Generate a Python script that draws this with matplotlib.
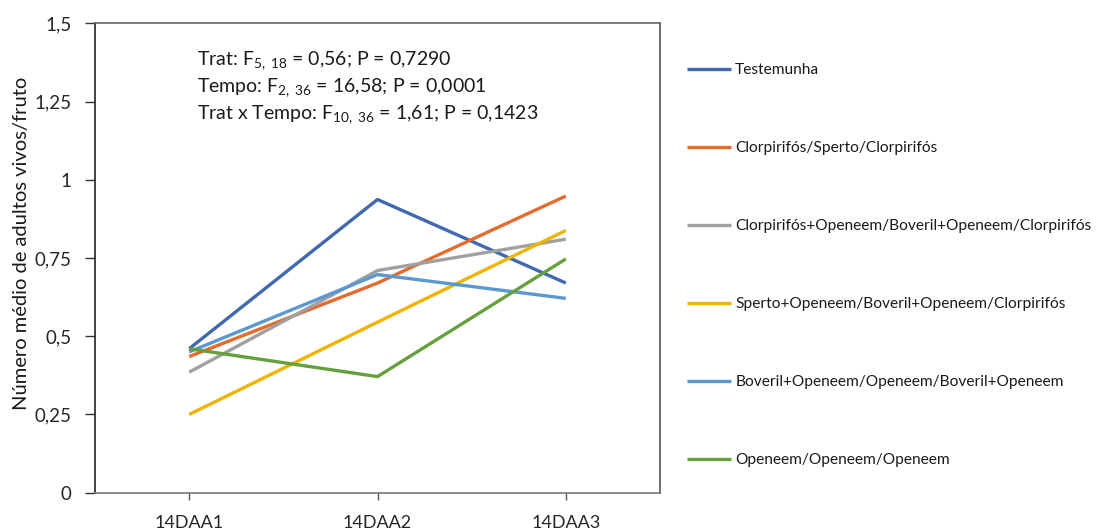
import matplotlib
matplotlib.use("Agg")
import matplotlib.pyplot as plt
from matplotlib.ticker import FixedLocator

plt.rcParams["font.family"] = ["Lato", "DejaVu Sans"]
plt.rcParams["mathtext.fontset"] = "custom"
plt.rcParams["mathtext.rm"] = "Lato"
plt.rcParams["mathtext.it"] = "Lato:italic"

# data
times = ["14DAA1", "14DAA2", "14DAA3"]
series_names = [
    "Testemunha",
    "Clorpirifós/Sperto/Clorpirifós",
    "Clorpirifós+Openeem/Boveril+Openeem/Clorpirifós",
    "Sperto+Openeem/Boveril+Openeem/Clorpirifós",
    "Boveril+Openeem/Openeem/Boveril+Openeem",
    "Openeem/Openeem/Openeem",
]
testemunha = [0.46, 0.937, 0.67]
clorpirifos = [0.435, 0.67, 0.948]
clorp_openeem = [0.385, 0.71, 0.81]
sperto_openeem = [0.25, 0.545, 0.838]
boveril_openeem = [0.45, 0.697, 0.621]
openeem = [0.46, 0.371, 0.747]
y_ticks = [0, 0.25, 0.5, 0.75, 1, 1.25, 1.5]
y_tick_labels = ["0", "0,25", "0,5", "0,75", "1", "1,25", "1,5"]
stats_lines = [
    r"Trat: F$_{\mathrm{5,\ 18}}$ = 0,56; P = 0,7290",
    r"Tempo: F$_{\mathrm{2,\ 36}}$ = 16,58; P = 0,0001",
    r"Trat x Tempo: F$_{\mathrm{10,\ 36}}$ = 1,61; P = 0,1423",
]

colors = ["#4169B0", "#E46C2C", "#A0A0A0", "#F0B400", "#5B98CF", "#64A03C"]
all_series = [testemunha, clorpirifos, clorp_openeem, sperto_openeem, boveril_openeem, openeem]

fig = plt.figure(figsize=(11, 5.31), dpi=100)
ax = fig.add_axes([95 / 1100, 1 - 492.7 / 531, (660 - 95) / 1100, (492.7 - 23.3) / 531])

x = list(range(len(times)))
handles = []
for vals, name, col in zip(all_series, series_names, colors):
    h, = ax.plot(x, vals, color=col, linewidth=2.4, label=name, solid_capstyle="butt")
    handles.append(h)

ax.set_xlim(-0.5, 2.5)
ax.set_ylim(0, 1.5)
ax.xaxis.set_major_locator(FixedLocator(x))
ax.set_xticklabels(times, fontsize=13, color="#262626")
ax.yaxis.set_major_locator(FixedLocator(y_ticks))
ax.set_yticklabels(y_tick_labels, fontsize=13.5, color="#262626")
ax.tick_params(axis="x", direction="out", length=5, width=1, color="#555555", pad=11)
ax.tick_params(axis="y", direction="out", length=7, width=1, color="#333333", pad=10)

ax.spines["left"].set_color("#222222")
ax.spines["bottom"].set_color("#777777")
ax.spines["top"].set_color("#666666")
ax.spines["right"].set_color("#555555")
for s in ax.spines.values():
    s.set_linewidth(1.2)

ax.set_ylabel("Número médio de adultos vivos/fruto", fontsize=14.5, color="#1a1a1a",
              va="center")
ax.yaxis.set_label_coords(-0.13, 0.532)

# ANOVA results box in the upper left of the plot
for i, line in enumerate(stats_lines):
    fig.text(197 / 1100, 1 - (61 + i * 27) / 531, line, fontsize=14, color="#1a1a1a",
             ha="left", va="center")

leg = fig.legend(handles=handles, labels=series_names, loc="upper left",
                 bbox_to_anchor=(687 / 1100, 1 - 63 / 531), frameon=False,
                 fontsize=11.2, handlelength=2.8, handletextpad=0.3,
                 labelspacing=4.12, borderaxespad=0, borderpad=0)
for t in leg.get_texts():
    t.set_color("#1a1a1a")

fig.savefig("out.png", dpi=100)
